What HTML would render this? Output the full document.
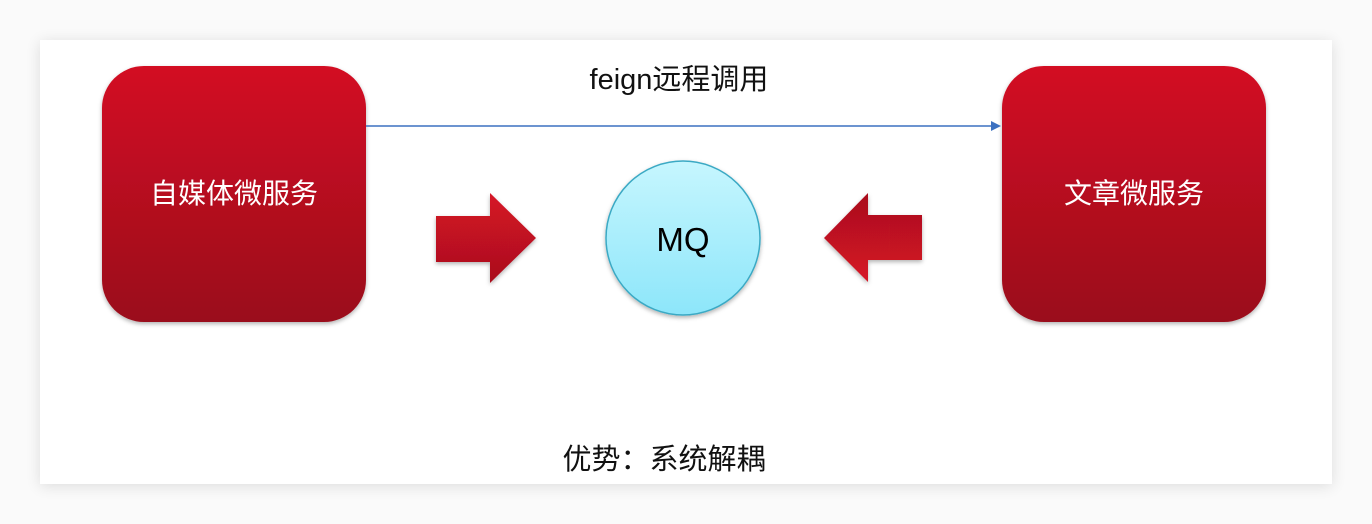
<!DOCTYPE html>
<html><head><meta charset="utf-8"><style>
body{margin:0;width:1372px;height:524px;background:#fafafa;overflow:hidden;font-family:"Liberation Sans","Noto Sans CJK SC",sans-serif;}
.card{position:absolute;left:40px;top:40px;width:1292px;height:444px;background:#fff;box-shadow:0 2px 14px rgba(0,0,0,0.12);}
</style></head><body>
<div class="card"></div>
<svg width="1372" height="524" style="position:absolute;left:0;top:0">
<defs>
<linearGradient id="r" x1="0" y1="0" x2="0" y2="1"><stop offset="0" stop-color="#d31024"/><stop offset="1" stop-color="#9a0f1b"/></linearGradient>
<linearGradient id="ra" x1="0" y1="0" x2="0" y2="1"><stop offset="0" stop-color="#d61326"/><stop offset="1" stop-color="#a9101d"/></linearGradient>
<linearGradient id="rb" x1="0" y1="0" x2="0" y2="1"><stop offset="0" stop-color="#a9101d"/><stop offset="1" stop-color="#d61326"/></linearGradient>
<linearGradient id="c" x1="0" y1="0" x2="0" y2="1"><stop offset="0" stop-color="#c6f6fe"/><stop offset="1" stop-color="#8de6fa"/></linearGradient>
<filter id="s" x="-20%" y="-20%" width="140%" height="140%"><feDropShadow dx="0" dy="2" stdDeviation="2" flood-opacity="0.3"/></filter>
</defs>
<rect x="102" y="66" width="264" height="256" rx="42" fill="url(#r)" filter="url(#s)"/>
<rect x="1002" y="66" width="264" height="256" rx="42" fill="url(#r)" filter="url(#s)"/>
<line x1="366" y1="126" x2="994" y2="126" stroke="#3b70c0" stroke-width="1.5"/>
<polygon points="1001,126 991,121 991,131" fill="#3b70c0"/>
<polygon points="436,216 490,216 490,193 536,238 490,283 490,262 436,262" fill="url(#ra)" filter="url(#s)"/>
<polygon points="922,215 868,215 868,193 824,238 868,282 868,260 922,260" fill="url(#rb)" filter="url(#s)"/>
<circle cx="683" cy="238" r="77" fill="url(#c)" stroke="#3aa9c4" stroke-width="1.5" filter="url(#s)"/>
<text x="234" y="203" fill="#fff" font-size="28" text-anchor="middle" font-family="Liberation Sans,Noto Sans CJK SC,sans-serif">自媒体微服务</text>
<text x="1134" y="203" fill="#fff" font-size="28" text-anchor="middle" font-family="Liberation Sans,Noto Sans CJK SC,sans-serif">文章微服务</text>
<text x="683" y="251" fill="#000" font-size="33" text-anchor="middle" font-family="Liberation Sans,sans-serif">MQ</text>
<text x="679" y="89" fill="#111" font-size="29" text-anchor="middle" font-family="Liberation Sans,Noto Sans CJK SC,sans-serif">feign远程调用</text>
<text x="664" y="469" fill="#111" font-size="29" text-anchor="middle" font-family="Liberation Sans,Noto Sans CJK SC,sans-serif">优势：系统解耦</text>
</svg>
</body></html>
